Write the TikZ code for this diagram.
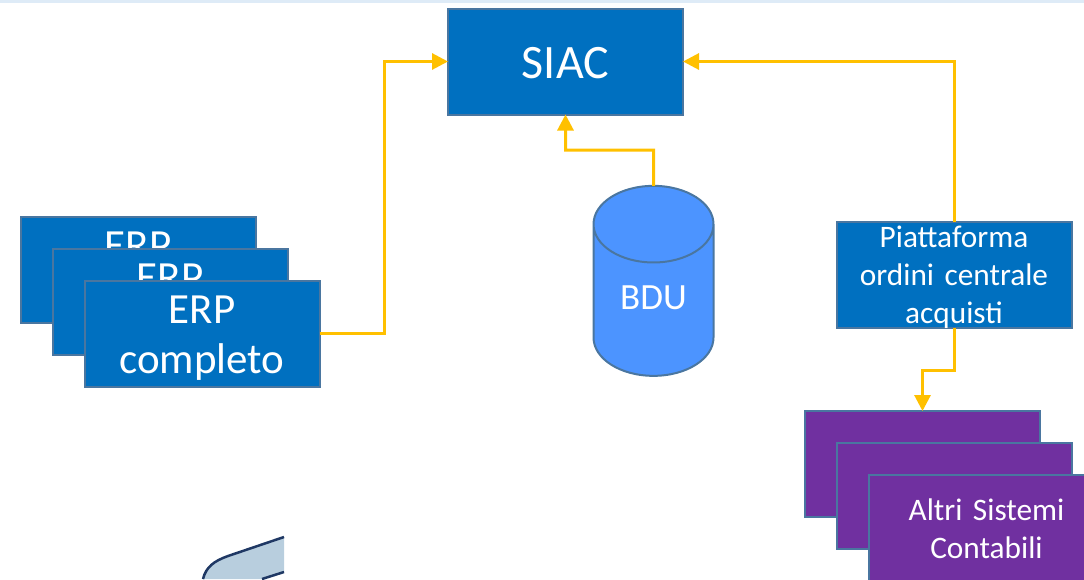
\documentclass[tikz,border=0pt]{standalone}
\usepackage{fontspec}
\setmainfont{Carlito}
\usetikzlibrary{arrows.meta,shapes.geometric}
\definecolor{boxblue}{HTML}{0070C0}
\definecolor{boxedge}{HTML}{4A76A0}
\definecolor{boxpurple}{HTML}{7030A0}
\definecolor{cylblue}{HTML}{4C94FF}
\definecolor{linkyellow}{HTML}{FFC000}
\definecolor{topband}{HTML}{DEEBF7}
\definecolor{picfill}{HTML}{B8CEDE}
\definecolor{picline}{HTML}{1F3864}
\tikzset{
  card/.style={draw=boxedge,line width=2pt,text=white,align=center,inner sep=0pt,outer sep=0pt,
    minimum width=235pt,minimum height=106pt,text width=230pt},
  bluecard/.style={card,fill=boxblue},
  purplecard/.style={card,fill=boxpurple},
  big/.style={font=\fontsize{48}{56}\selectfont,text height=33pt,text depth=0pt},
  mid/.style={font=\fontsize{43}{50}\selectfont,text height=0pt,text depth=21pt},
  small/.style={font=\fontsize{31.3}{38}\selectfont},
  link/.style={draw=linkyellow,line width=3pt,-{Triangle[length=16pt,width=16pt]}},
}
\begin{document}
\begin{tikzpicture}[x=1pt,y=-1pt]
\useasboundingbox (0,0) rectangle (1084,579);
\clip (0,0) rectangle (1084,579);
\fill[topband] (0,0) rectangle (1084,3);
% fragment of a picture, cut off at the edge
\path[fill=picfill] (203,579) .. controls (206,567) and (214,561) .. (228,556) -- (284,537) -- (284,572) -- (262,579) -- cycle;
\draw[line width=2.5pt,draw=picline] (203,579) .. controls (206,567) and (214,561) .. (228,556) -- (284,537);
\draw[line width=2.5pt,draw=picline] (262,579) -- (284,572);
\node[bluecard,big] (siac) at (565.5,61.5) {SIAC};
\node[bluecard,mid] (erpa) at (138,269.5) {ERP\\completo};
\node[bluecard,mid] (erpb) at (170,301.5) {ERP\\completo};
\node[bluecard,mid] (erpc) at (202,333.5) {ERP\\completo};
\node[bluecard,small,text height=0pt,text depth=55pt] (piatt) at (954,274.5) {Piattaforma\\ordini centrale\\acquisti};
\node[purplecard,small] (alta) at (922.5,464) {};
\node[purplecard,small] (altb) at (954.5,496) {};
\node[purplecard,small,text height=0pt,text depth=16pt] (altc) at (986.5,528) {Altri Sistemi\\Contabili};
\node[cylinder,shape border rotate=90,aspect=1.15,draw=boxedge,line width=2pt,fill=cylblue,
  cylinder uses custom fill,cylinder body fill=cylblue,cylinder end fill=cylblue,
  minimum width=120pt,minimum height=190pt,inner sep=0pt,outer sep=0pt,text=white,
  text height=17pt,text depth=0pt,
  font=\fontsize{37}{44}\selectfont] (bdu) at (653.5,300.5) {BDU};
\coordinate (bendl) at (384,61.5);
\coordinate (bendb) at (653.5,150);
\coordinate (bendr) at (954,370);
\draw[link] (erpc.east) -| (bendl) -- (siac.west);
\draw[link] (piatt.north) |- (siac.east);
\draw[link] (bdu.north) -- (bendb) -| (siac.south);
\draw[link] (piatt.south) -- (bendr) -| (alta.north);
\end{tikzpicture}
\end{document}
